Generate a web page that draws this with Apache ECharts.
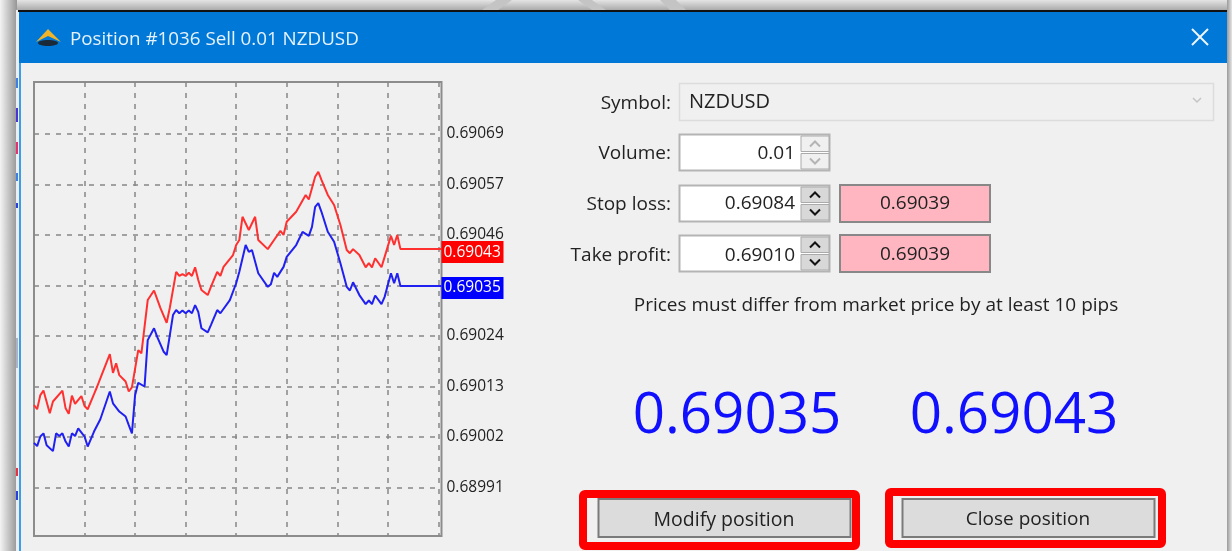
<!DOCTYPE html>
<html>
<head>
<meta charset="utf-8">
<title>Position #1036</title>
<style>
html, body { margin: 0; padding: 0; background: #fff; overflow: hidden; }
#main { width: 1232px; height: 551px; filter: blur(0.45px); }
</style>
<script src="https://cdn.jsdelivr.net/npm/echarts@6/dist/echarts.min.js"></script>
</head>
<body>
<div id="main"></div>
<script>
// bar positions and prices
var askBars = [0,1,2,3,5,6,9,10,11,12,13,15,16,17,19,20,21,24,25,26,27,29,30,31,33,34,36,38,40,42,43,45,46,47,48,49,50,51,52,53,55,56,58,59,60,63,64,65,66,68,70,71,74,76,78,79,80,83,86,87,89,90,91,93,95,97,99,100,101,103,105,106,107,108,110,111,113,114,115,116,129];
var askPrices = [0.690094,0.690085,0.690116,0.690126,0.690076,0.690102,0.690126,0.690087,0.690075,0.690115,0.690097,0.690114,0.690092,0.690085,0.690118,0.690135,0.690153,0.690206,0.690165,0.690186,0.690160,0.690146,0.690124,0.690133,0.690215,0.690208,0.690325,0.690346,0.690308,0.690275,0.690308,0.690387,0.690378,0.690382,0.690378,0.690385,0.690378,0.690397,0.690369,0.690347,0.690336,0.690354,0.690387,0.690378,0.690398,0.690424,0.690446,0.690457,0.690508,0.690479,0.690508,0.690457,0.690437,0.690457,0.690477,0.690468,0.690497,0.690519,0.690556,0.690546,0.690596,0.690607,0.690589,0.690556,0.690534,0.690490,0.690435,0.690428,0.690437,0.690424,0.690397,0.690406,0.690397,0.690417,0.690397,0.690420,0.690466,0.690446,0.690468,0.690437,0.690437];
var bidBars = [0,1,2,3,4,6,7,8,9,10,11,12,13,14,16,17,19,21,24,25,27,29,30,31,32,33,35,36,38,39,41,42,44,45,46,47,48,49,50,51,52,53,55,56,58,59,62,64,65,67,68,69,71,74,75,76,77,79,80,83,85,87,88,89,90,91,93,95,97,99,100,101,103,105,106,107,108,110,111,113,114,115,116,129];
var bidPrices = [0.690011,0.690004,0.690025,0.690032,0.690006,0.689993,0.690032,0.690026,0.690032,0.690014,0.690003,0.690032,0.690026,0.690043,0.690025,0.690003,0.690036,0.690063,0.690124,0.690098,0.690080,0.690069,0.690050,0.690032,0.690116,0.690143,0.690135,0.690237,0.690263,0.690244,0.690212,0.690204,0.690292,0.690303,0.690296,0.690302,0.690296,0.690302,0.690296,0.690314,0.690299,0.690263,0.690254,0.690270,0.690303,0.690296,0.690325,0.690362,0.690387,0.690446,0.690431,0.690435,0.690384,0.690354,0.690360,0.690385,0.690376,0.690398,0.690420,0.690446,0.690475,0.690466,0.690486,0.690530,0.690538,0.690519,0.690475,0.690453,0.690406,0.690354,0.690346,0.690364,0.690336,0.690316,0.690324,0.690316,0.690335,0.690316,0.690332,0.690384,0.690362,0.690384,0.690356,0.690356];
var priceTicks = [0.69069,0.690579,0.690468,0.690357,0.690246,0.690135,0.690024,0.689913];
var timeTicks = [16,32,48,64,80,96,112,128];

var FONT = '"Open Sans", sans-serif';

function pairs(bars, prices) {
    return bars.map(function (b, i) { return [b, prices[i]]; });
}
// terminal prints prices cut to 5 digits
function cut(v) {
    return (Math.floor(v * 100000 + 1e-6) / 100000).toFixed(5);
}
function rect(x, y, w, h, fill, stroke, lw, z) {
    return { type: 'rect', z: z === undefined ? -5 : z, silent: true, shape: { x: x, y: y, width: w, height: h },
        style: { fill: fill, stroke: stroke || null, lineWidth: lw || 0 } };
}
function txt(x, y, s, size, color, align) {
    return { type: 'text', z: -1, silent: true, x: x, y: y,
        style: { text: s, fill: color || '#222', font: (size || 19) + 'px ' + FONT, align: align || 'left', verticalAlign: 'middle' } };
}
function poly(points, fill, stroke, lw) {
    return { type: fill ? 'polygon' : 'polyline', z: -2, silent: true, shape: { points: points },
        style: { fill: fill || null, stroke: stroke || null, lineWidth: lw || 0 } };
}
function spinner(y, h, color, fill) {
    var mid = y + h / 2;
    return [
        rect(801, y + 1, 28, h / 2 - 2, fill, '#aaa', 1, -3),
        rect(801, mid + 1, 28, h / 2 - 2, fill, '#aaa', 1, -3),
        poly([[810, mid - 6], [815, mid - 11], [820, mid - 6]], null, color, 2),
        poly([[810, mid + 6], [815, mid + 11], [820, mid + 6]], null, color, 2)
    ];
}

var ui = [
    // shadow and backdrop behind the dialog
    { type: 'rect', z: -9, silent: true, shape: { x: 0, y: 0, width: 1232, height: 14 },
        style: { fill: new echarts.graphic.LinearGradient(0, 0, 0, 1, [{ offset: 0, color: '#e4e4e4' }, { offset: 0.75, color: '#a8a8a8' }, { offset: 1, color: '#999' }]) } },
    { type: 'rect', z: -8, silent: true, shape: { x: 0, y: 0, width: 17, height: 551 },
        style: { fill: new echarts.graphic.LinearGradient(0, 0, 1, 0, [{ offset: 0, color: '#f4f4f4' }, { offset: 1, color: '#969696' }]) } },
    { type: 'rect', z: -8, silent: true, shape: { x: 1227, y: 0, width: 5, height: 551 },
        style: { fill: new echarts.graphic.LinearGradient(0, 0, 1, 0, [{ offset: 0, color: '#9a9a9a' }, { offset: 1, color: '#e6e6e6' }]) } },
    poly([[482, 10], [496, 0], [512, 0], [498, 10]], '#c4c4c4'),
    poly([[578, 0], [592, 0], [606, 10], [592, 10]], '#c4c4c4'),
    poly([[660, 0], [676, 0], [686, 10], [670, 10]], '#c4c4c4'),
    rect(16, 10, 3, 541, '#eceef2', null, 0, -7),
    rect(16, 78, 2, 10, '#3f7fe0', null, 0, -6),
    rect(16, 108, 2, 14, '#4a35d0', null, 0, -6),
    rect(16, 142, 2, 12, '#e8306a', null, 0, -6),
    rect(16, 173, 2, 8, '#3f7fe0', null, 0, -6),
    rect(16, 203, 2, 5, '#2a40d8', null, 0, -6),
    rect(16, 338, 2, 30, '#aab4c6', null, 0, -6),
    rect(16, 468, 2, 8, '#e83040', null, 0, -6),
    rect(16, 491, 2, 9, '#2a40d8', null, 0, -6),
    rect(18, 10, 1209, 2, '#111', null, 0, -7),
    // dialog frame
    rect(19, 12, 1208, 539, '#f0f0f0', null, 0, -7),
    rect(19, 12, 2, 539, '#3b9ce8', null, 0, -6),
    rect(19, 12, 1208, 51, '#0078d7', null, 0, -6),
    poly([[36, 42], [48, 29], [61, 42], [48, 36]], '#f0b429'),
    { type: 'ellipse', z: -2, silent: true, shape: { cx: 48, cy: 43, rx: 10, ry: 3 }, style: { fill: '#1b2a38' } },
    txt(70, 40, 'Position #1036 Sell 0.01 NZDUSD', 18.8, '#e6f2fc'),
    poly([[1192, 29], [1208, 45]], null, '#eef6fd', 2),
    poly([[1208, 29], [1192, 45]], null, '#eef6fd', 2),
    // symbol row
    txt(671, 104, 'Symbol:', 19, '#222', 'right'),
    rect(679.5, 83.5, 534, 37, '#f0f0f0', '#dcdcdc', 1.5),
    txt(689, 102, 'NZDUSD', 20, '#222'),
    poly([[1193, 98], [1197, 102], [1201, 98]], null, '#c4c4c4', 1.5),
    // volume row
    txt(671, 154, 'Volume:', 19, '#222', 'right'),
    rect(679.5, 134.5, 150, 36, '#fff', '#b4b4b4', 2),
    txt(795, 154, '0.01', 19, '#222', 'right')
].concat(spinner(135, 35, '#b4b4b4', '#f0f0f0'), [
    // stop loss row
    txt(671, 205, 'Stop loss:', 19, '#222', 'right'),
    rect(679.5, 185.5, 150, 36, '#fff', '#b4b4b4', 2),
    txt(795, 204, '0.69084', 19, '#222', 'right')
], spinner(186, 35, '#111', '#d8d8d8'), [
    rect(840, 185, 150, 37, '#ffb6c1', '#888', 2),
    txt(915, 204, '0.69039', 19, '#222', 'center'),
    // take profit row
    txt(671, 256, 'Take profit:', 19, '#222', 'right'),
    rect(679.5, 235.5, 150, 36, '#fff', '#b4b4b4', 2),
    txt(795, 256, '0.69010', 19, '#222', 'right')
], spinner(236, 35, '#111', '#d8d8d8'), [
    rect(840, 235, 150, 37, '#ffb6c1', '#888', 2),
    txt(915, 255, '0.69039', 19, '#222', 'center'),
    txt(876, 306, 'Prices must differ from market price by at least 10 pips', 19, '#222', 'center'),
    txt(737, 417, '0.69035', 56.5, '#1010ff', 'center'),
    txt(1014, 417, '0.69043', 56.5, '#1010ff', 'center'),
    // buttons with the red call-outs
    rect(598.5, 499, 252, 38, '#dcdcdc', '#7a7a7a', 2),
    txt(724, 520, 'Modify position', 19.5, '#222', 'center'),
    rect(902.5, 499, 252, 38, '#dcdcdc', '#7a7a7a', 2),
    txt(1028, 520, 'Close position', 19, '#222', 'center'),
    { type: 'rect', z: -2, silent: true, shape: { x: 583, y: 494, width: 273, height: 52, r: 2 }, style: { fill: null, stroke: '#ff0000', lineWidth: 8 } },
    { type: 'rect', z: -2, silent: true, shape: { x: 889, y: 492, width: 273, height: 52, r: 2 }, style: { fill: null, stroke: '#ff0000', lineWidth: 8 } }
]);

function tag(color, dy) {
    return {
        show: true,
        formatter: function (p) { return cut(p.value[1]); },
        color: '#fff',
        backgroundColor: color,
        fontFamily: FONT,
        fontSize: 15.5,
        distance: 0,
        offset: [0, dy],
        padding: [4, 0, 2, 2],
        width: 60,
        overflow: 'none',
        align: 'left'
    };
}

var myChart = echarts.init(document.getElementById('main'));
myChart.setOption({
    animation: false,
    backgroundColor: '#fff',
    graphic: { elements: ui },
    grid: { left: 34, top: 82, width: 407.5, height: 454, show: true, backgroundColor: 'transparent', borderColor: '#8c8c8c', borderWidth: 2 },
    xAxis: {
        type: 'value', min: 0, max: 129,
        axisLine: { show: false },
        axisTick: { show: false, customValues: timeTicks },
        axisLabel: { show: false, customValues: timeTicks },
        splitLine: { show: true, lineStyle: { color: '#868686', width: 1.5, type: [5, 6] } }
    },
    yAxis: {
        type: 'value', position: 'right', min: 0.6898064, max: 0.6908043,
        axisLine: { show: false },
        axisTick: { show: false, customValues: priceTicks },
        axisLabel: {
            customValues: priceTicks,
            margin: 5,
            padding: [6, 0, 0, 0],
            color: '#222',
            fontFamily: FONT,
            fontSize: 15.5,
            formatter: cut
        },
        splitLine: { show: true, lineStyle: { color: '#868686', width: 1.5, type: [5, 6] } }
    },
    series: [
        { type: 'line', name: 'Ask', z: 4, data: pairs(askBars, askPrices), showSymbol: false, clip: false,
            lineStyle: { color: '#ff3030', width: 2 }, endLabel: tag('#ff0000', 3) },
        { type: 'line', name: 'Bid', z: 5, data: pairs(bidBars, bidPrices), showSymbol: false, clip: false,
            lineStyle: { color: '#2020f0', width: 2 }, endLabel: tag('#0000ff', 2) }
    ]
});
</script>
</body>
</html>
